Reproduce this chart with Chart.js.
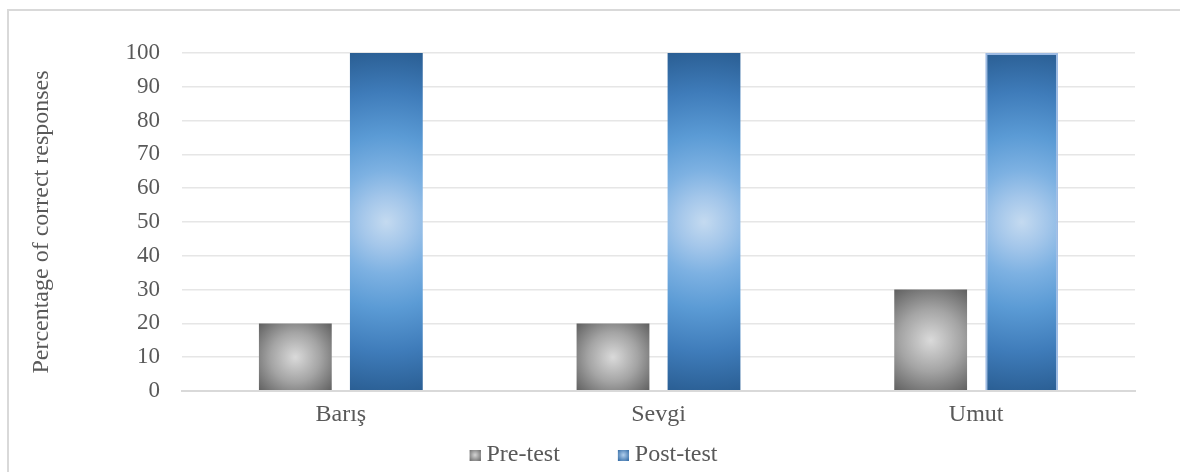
<!DOCTYPE html>
<html>
<head>
<meta charset="utf-8">
<script src="https://cdn.jsdelivr.net/npm/chart.js@4.4.1/dist/chart.umd.min.js"></script>
<style>
  html, body { margin: 0; padding: 0; background: #fff; }
  #wrap { position: relative; width: 1180px; height: 472px; overflow: hidden; }
  #frame { position: absolute; left: 7px; top: 9px; width: 1400px; height: 600px;
           border-left: 2px solid #d9d9d9; border-top: 2px solid #d9d9d9; }
  #chartBars { position: absolute; left: 0; top: 0; }
</style>
</head>
<body>
<div id="wrap">
  <div id="frame"></div>
  <canvas id="chartBars" width="1180" height="472"></canvas>
</div>
<script>
const categories = ["Barış", "Sevgi", "Umut"];
const preTest = [20, 20, 30];
const postTest = [100, 100, 100];

const CAT_PCT = 0.573;
const BAR_PCT = 0.8;
const FONT = "'Liberation Serif', 'Times New Roman', serif";
const TEXT = "#595959";

// legend box is wider than the swatch so the items sit further apart
const KEY_W = 55;

// radial fill for one bar, centred on the bar the library will draw
function barFill(c, stops, fallback) {
    const chart = c.chart;
    const xs = chart.scales.x, ys = chart.scales.y;
    if (!xs || !ys || c.dataIndex === undefined) return fallback;
    const cat = xs.width / categories.length;
    const slot = cat * CAT_PCT / 2;
    const cx = xs.getPixelForValue(c.dataIndex) - cat * CAT_PCT / 2 + slot * (c.datasetIndex + 0.5);
    const top = ys.getPixelForValue(c.raw);
    const base = ys.getPixelForValue(0);
    const cy = (top + base) / 2;
    const r = Math.hypot(slot * BAR_PCT / 2, (base - top) / 2);
    const g = chart.ctx.createRadialGradient(cx, cy, 0, cx, cy, r);
    stops.forEach(s => g.addColorStop(s[0], s[1]));
    return g;
}

const grayStops = [[0, "#dadada"], [0.5, "#a4a4a4"], [1, "#5f5f5f"]];
const blueStops = [[0, "#c4daf0"], [0.15, "#a3c6ea"], [0.3, "#7db1e2"], [0.5, "#5b9bd5"], [0.75, "#3f7cba"], [1, "#2a5e93"]];

// legend swatch, drawn at the right end of a transparent strip
function swatch(inner, outer) {
    const cv = document.createElement("canvas");
    cv.width = KEY_W + 12; cv.height = 11;
    const x = cv.getContext("2d");
    const ox = cv.width - 11;
    const g = x.createRadialGradient(ox + 5.5, 5.5, 0, ox + 5.5, 5.5, 7.8);
    g.addColorStop(0, inner);
    g.addColorStop(1, outer);
    x.fillStyle = g;
    x.fillRect(ox, 0, 11, 11);
    return cv;
}
const preIcon = swatch("#d6d6d6", "#6a6a6a");
const postIcon = swatch("#b3d0ee", "#2f68a3");

const chart = new Chart(document.getElementById("chartBars").getContext("2d"), {
    type: "bar",
    data: {
        labels: categories,
        datasets: [
            {
                label: "Pre-test",
                data: preTest,
                backgroundColor: c => barFill(c, grayStops, "#a6a6a6"),
                borderWidth: 0,
                categoryPercentage: CAT_PCT,
                barPercentage: BAR_PCT
            },
            {
                label: "Post-test",
                data: postTest,
                backgroundColor: c => barFill(c, blueStops, "#5b9bd5"),
                borderColor: "#9dbbe4",
                borderWidth: [0, 0, 2],
                categoryPercentage: CAT_PCT,
                barPercentage: BAR_PCT
            }
        ]
    },
    options: {
        responsive: false,
        animation: false,
        events: [],
        devicePixelRatio: 1,
        layout: { padding: { left: 2, right: 45, top: 53, bottom: -5 } },
        plugins: {
            tooltip: { enabled: false },
            legend: {
                position: "bottom",
                labels: {
                    usePointStyle: true,
                    pointStyleWidth: KEY_W,
                    boxWidth: 11,
                    boxHeight: 11,
                    padding: 8,
                    color: TEXT,
                    font: { family: FONT, size: 24 },
                    generateLabels: ch => ch.data.datasets.map((ds, i) => ({
                        text: ds.label,
                        pointStyle: i === 0 ? preIcon : postIcon,
                        fillStyle: "transparent",
                        strokeStyle: "transparent",
                        lineWidth: 0,
                        fontColor: TEXT,
                        datasetIndex: i
                    }))
                }
            }
        },
        scales: {
            x: {
                afterFit: s => { s.height = 44; },
                grid: { display: false, drawTicks: false },
                border: { display: true, color: "#d9d9d9", width: 2 },
                ticks: { color: TEXT, padding: 9, font: { family: FONT, size: 24 } }
            },
            y: {
                min: 0,
                max: 100,
                afterFit: s => { s.width = 180; },
                border: { display: false },
                grid: {
                    drawTicks: false,
                    color: c => c.tick && c.tick.value === 0 ? "#d9d9d9" : "#e6e6e6",
                    lineWidth: c => c.tick && c.tick.value === 0 ? 2 : 1.5
                },
                ticks: { stepSize: 10, padding: 22, color: TEXT, font: { family: FONT, size: 23 } },
                title: {
                    display: true,
                    text: "Percentage of correct responses",
                    color: TEXT,
                    padding: { top: 25, bottom: 0 },
                    font: { family: FONT, size: 24 }
                }
            }
        }
    }
});
</script>
</body>
</html>
